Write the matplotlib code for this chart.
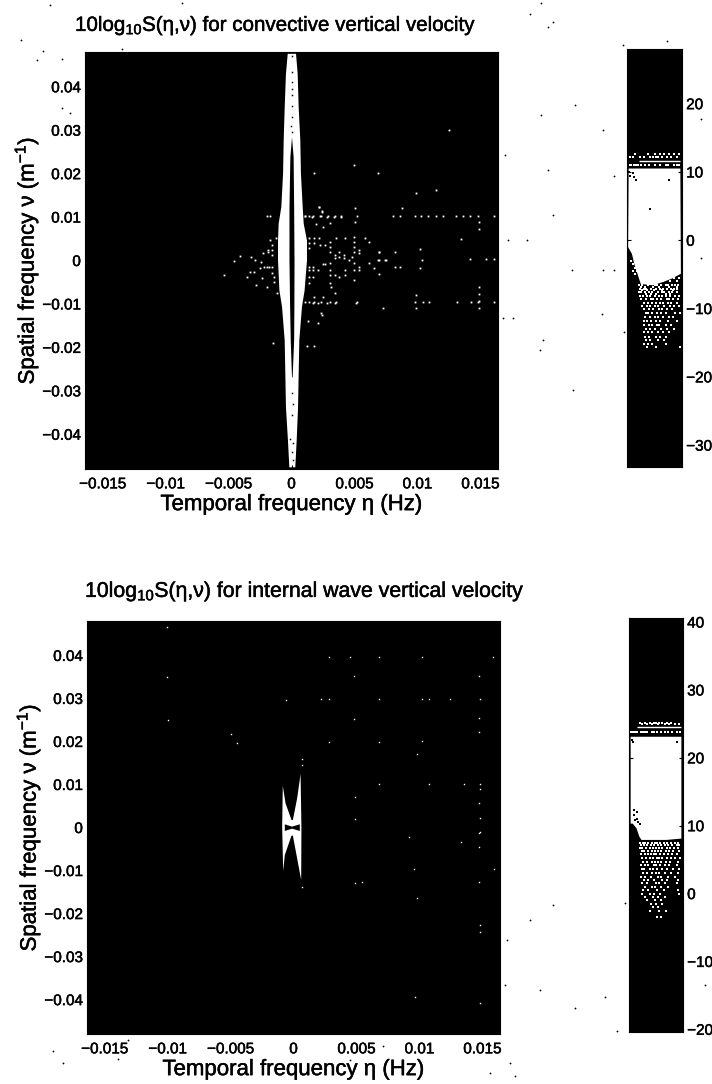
import matplotlib
matplotlib.use("Agg")
import matplotlib.pyplot as plt
import matplotlib.patheffects as pe
from matplotlib.text import Text

plt.rcParams['font.family'] = ['Liberation Sans', 'DejaVu Sans']
plt.rcParams['mathtext.fontset'] = 'custom'
plt.rcParams['mathtext.rm'] = 'Liberation Sans'
plt.rcParams['mathtext.it'] = 'Liberation Sans'
plt.rcParams['mathtext.fallback'] = 'stix'

# frequencies below are in mHz and 1e-3 1/m
x_ticks = [-0.015, -0.01, -0.005, 0, 0.005, 0.01, 0.015]
x_tick_labels = ['\u22120.015', '\u22120.01', '\u22120.005', '0', '0.005', '0.01', '0.015']
y_ticks = [0.04, 0.03, 0.02, 0.01, 0, -0.01, -0.02, -0.03, -0.04]
y_tick_labels = ['0.04', '0.03', '0.02', '0.01', '0', '\u22120.01', '\u22120.02', '\u22120.03', '\u22120.04']

# convective panel, white spindle
conv_y = [47.7, 43.1, 35.4, 27.8, 20.1, 12.4, 8.6, 4.7, 0.1, -6.8, -10.6, -18.3, -26, -33.7, -41.4, -47.5]
conv_left = [-0.34, -0.48, -0.58, -0.66, -0.71, -0.85, -1.06, -1.11, -1.11, -1.0, -0.79, -0.58, -0.53, -0.48, -0.32, -0.21]
conv_right = [0.32, 0.45, 0.53, 0.66, 0.71, 0.85, 0.93, 1.19, 1.19, 1.0, 0.79, 0.58, 0.53, 0.48, 0.37, 0.26]
gap_y = [28.5, 23.9, 12.4, 0.1, -10.6, -18.3, -26.8]
gap_left = [0, -0.13, -0.2, -0.2, -0.15, -0.1, 0]
gap_right = [0, 0.13, 0.17, 0.2, 0.19, 0.17, 0.05]
conv_holes_x = [0.0, 0.03, 0.0, 0.0, 0.0, -0.02, 0.03, 0.0, 0.0, 0.05, 0.1, 0.0, -0.1, 0.1, 0.0, 0.1]
conv_holes_y = [47.0, 41.0, 39.5, 38.0, 33.0, 31.0, 29.6, 35.5, 43.5, -30.5, -33.0, -35.5, -41.0, -42.0, -44.0, -46.0]

# convective panel, scattered white points
conv_dots_x = [
    -5.37, -4.58, -4.10, -3.52, -3.31, -3.25, -2.94, -2.86, -2.78, -2.51, -2.46, -2.27, -2.19, -2.33, -1.93, -1.93,
    -1.85, -1.85, -1.75, -1.53, -1.53, -1.53, -1.53, -1.53, -1.40, -1.40, -1.27, -1.67, -1.19,
    2.17, 2.43, 2.83, 3.36, 3.97, 2.30, 1.11, 1.64, 1.96, 2.49, 3.02,
    1.38, 1.77, 2.17, 1.38, 1.77, 1.38, 2.30, 2.70, 3.02, 3.02, 3.02, 3.55, 4.23, 4.95, 4.95, 4.95, 4.95,
    5.80, 6.19, 5.40, 5.40, 6.93, 3.44, 3.44, 3.76, 3.76, 4.15, 4.15, 4.82,
    2.49, 2.70, 3.02, 3.02, 3.02, 1.38, 1.70, 1.38, 1.70, 1.38, 1.70, 2.11, 3.44, 3.76, 4.23, 4.23, 4.55,
    4.95, 4.95, 4.95, 5.40, 5.40, 6.14, 6.53, 6.93, 7.41, 6.93, 1.38, 3.02, 3.17, 3.44, 1.77, 2.49, 1.70, 2.11,
    2.83, 3.44, 5.13, 2.38,
    6.96, 7.54, 6.88, 8.2, 8.2, 8.65, 10.19, 10.4, 10.19, 13.49, 14.2, 15.48, 16.08, 9.92, 7.28, 9.92,
    2.12, 2.43, 1.32, -1.46, 1.22, 1.8, 2.17, 2.43, 5.03, 1.8, 6.88, 4.97, 8.81, 9.92, 11.5, 12.51,
    -1.93, -1.67, 1.06, 1.38, 1.72, 2.38, 2.91, 3.44, 3.97, 5.24, 8.07, 8.65, 9.79, 10.32, 10.85, 11.5, 12.04,
    13.1, 13.62, 14.15, 14.81, 16.08,
    1.06, 1.38, 1.8, 2.38, 3.04, 3.52, 5.24, 9.79, 10.45, 10.9, 13.17, 14.29, 14.81, 16.08,
    14.9, 14.9, 14.9, 14.9, 14.9, 14.9, 5.03]
conv_dots_y = [
    -3.3, -0.1, 1.04, -3.7, -2.6, 0.73, -2.6, 0.12, -5.6, -1.8, -0.4, 1.65, -1.4, -4.1, -1.4, -6.0,
    2.4, 2.0, -1.4, 3.6, 2.4, 1.3, -1.4, -2.95, -3.7, -4.9, 5.1, 4.7, -7.5,
    12.4, 11.4, 10.1, 10.1, 10.1, 10.3, 10.25, 10.1, 8.3, 7.6, 8.6,
    5.1, 5.1, 5.1, 4.0, 4.0, 2.8, 3.6, 3.6, 4.3, 3.2, 2.0, 5.26, 5.26, 5.5, 4.3, 3.2, 2.0,
    5.1, 4.2, 2.4, 1.65, 2.0, 1.3, 0.5, 2.0, 0.9, 1.3, 0.5, 0.9,
    -0.9, -0.9, -0.65, -2.2, -3.3, -1.4, -1.4, -2.2, -2.2, -3.7, -3.7, -2.2, -3.3, -3.7, -2.2, -3.3, 0.1,
    -0.65, -2.2, -4.5, -1.4, -2.2, -0.65, -1.8, 0.1, 0.1, -3.0, -5.25, -5.25, -6.0, -7.5, -8.3, -8.3, -9.7, -9.7,
    -9.7, -9.7, -9.7, -12.2,
    2.0, 0.1, 0.1, 2.0, -1.4, -1.4, 2.6, 0.1, -1.8, 5.0, 0.35, 0.35, 0.35, -7.95, -11.0, -11.0,
    -14.5, -12.6, -13.9, -18.9, -19.6, -19.6, 12.25, 11.25, 12.0, 20.1, 20.1, 21.9, 12.0, 15.5, 16.2, 30.1,
    10.25, 10.25, 10.25, 10.25, 10.25, 10.25, 10.25, 10.25, 10.25, 10.25, 10.25, 10.25, 10.25, 10.25, 10.25, 10.25, 10.25,
    10.25, 10.25, 10.25, 10.25, 10.25,
    -9.64, -9.64, -9.64, -9.64, -9.64, -9.64, -9.64, -9.64, -9.64, -9.64, -9.64, -9.64, -9.64, -9.64,
    8.95, 7.2, -6.0, -7.7, -9.25, -11.0, 8.95]

# internal wave panel, bow tie
wave_x = [-0.85, -0.63, -0.16, -0.05, 0.29, 0.56, 0.63, 0.61, 0.29, -0.05, -0.16, -0.69, -0.82, -0.90]
wave_y = [9.7, 5.6, 1.75, 1.75, 6.8, 12.4, 0, -12.2, -7.2, -1.9, -1.9, -6.4, -10.1, 0]
bow_x = [-0.69, -0.11, 0.50, 0.50, -0.11, -0.69]
bow_y = [0.74, 0.2, 0.74, -0.8, -0.27, -0.8]

wave_dots_x = [
    -10.03, -10.03, -9.97, -5.0, -4.52, -0.61, 0.69, 0.69, 2.8, 4.52, 6.83, 10.21, 15.85, 4.84, 14.76,
    2.2, 2.8, 6.83, 10.21, 10.74, 12.41, 14.78, 4.84, 14.76, 14.71, 2.85, 6.83, 10.21, 9.81, 6.83, 10.79,
    13.57, 14.78, 14.78, 4.92, 14.71, 4.87, 14.78, 14.78, 9.21,
    13.33, 14.76, 14.76, 9.6, 15.95, 4.92, 5.45, 14.76, 0.69, 9.81, 14.78, 14.78, 9.68, 14.78]
wave_dots_y = [
    46.7, 34.9, 25.0, 21.7, 19.6, 29.7, 15.9, 14.6, 39.6, 39.6, 39.6, 39.7, 39.7, 35.2, 35.2,
    29.8, 29.8, 29.8, 29.96, 29.96, 29.96, 29.96, 25.3, 25.5, 22.3, 19.8, 19.9, 20.0, 17.2, 10.0, 10.2,
    10.1, 10.0, 9.0, 7.0, 5.6, 2.0, 2.1, -1.1, -2.3,
    -3.4, -1.2, -4.5, -9.65, -9.65, -12.98, -12.7, -12.75, -13.9, -16.3, -22.7, -24.2, -39.3, -40.9]

# colorbars: position across the bar (0-1) and value in dB
cb1_ticks = [20, 10, 0, -10, -20, -30]
cb1_labels = ['20', '10', '0', '\u221210', '\u221220', '\u221230']
cb1_white_f = [0.03, 0.97, 0.98, 0.82, 0.66, 0.47, 0.25, 0.19, 0.13, 0.09, 0.02]
cb1_white_v = [10.5, 10.5, -4.9, -5.6, -6.1, -6.6, -6.4, -4.9, -3.4, -2.0, -1.0]
cb1_line_f = [0.22, 0.97]
cb1_line_v = [11.6, 11.6]
cb1_rows = [
    (12.6, [0.15, 0.38, 0.5, 0.6, 0.68, 0.76, 0.85, 0.94]),
    (12.2, [0.05, 0.1, 0.24, 0.3, 0.42, 0.47, 0.53, 0.57, 0.64, 0.72, 0.8, 0.9]),
    (11.0, [0.05, 0.08, 0.13, 0.16, 0.2, 0.25, 0.32, 0.4, 0.5, 0.6, 0.7, 0.75, 0.85, 0.9, 0.95]),
    (-1.5, [0.08]), (-2, [0.1]), (-2.5, [0.12]), (-3, [0.08, 0.15]), (-3.5, [0.1]), (-4, [0.14]),
    (-4.5, [0.1, 0.18, 0.72, 0.88]),
    (-5, [0.14, 0.62, 0.8, 0.93]),
    (-5.5, [0.5, 0.7, 0.85, 0.95]),
    (-6, [0.45, 0.58, 0.66, 0.78, 0.9]),
    (-6.5, [0.22, 0.27, 0.38, 0.5, 0.55, 0.62, 0.7, 0.74, 0.82, 0.87, 0.93]),
    (-6.8, [0.25, 0.33, 0.47, 0.59, 0.77, 0.9]),
    (-7.1, [0.24, 0.3, 0.34, 0.44, 0.52, 0.6, 0.66, 0.72, 0.8, 0.86, 0.91]),
    (-7.3, [0.28, 0.37, 0.49, 0.64, 0.84]),
    (-7.6, [0.22, 0.26, 0.32, 0.4, 0.46, 0.56, 0.63, 0.68, 0.76, 0.82, 0.9]),
    (-7.9, [0.34, 0.44, 0.53, 0.71, 0.79]),
    (-8.1, [0.24, 0.29, 0.36, 0.42, 0.5, 0.58, 0.64, 0.7, 0.78, 0.88, 0.94]),
    (-8.6, [0.26, 0.34, 0.44, 0.48, 0.54, 0.62, 0.72, 0.76, 0.84, 0.92]),
    (-9.2, [0.3, 0.38, 0.46, 0.52, 0.6, 0.66, 0.74, 0.8, 0.9]),
    (-9.7, [0.28, 0.36, 0.42, 0.5, 0.56, 0.68, 0.78, 0.86, 0.94]),
    (-10.1, [0.3, 0.4, 0.48, 0.58, 0.64, 0.72, 0.82]),
    (-10.7, [0.34, 0.38, 0.46, 0.54, 0.62, 0.7, 0.88, 0.96]),
    (-11.2, [0.32, 0.42, 0.5, 0.56, 0.66, 0.76, 0.84]),
    (-11.8, [0.3, 0.36, 0.44, 0.52, 0.6, 0.74, 0.9]),
    (-12.4, [0.3, 0.4, 0.46, 0.54, 0.58, 0.7, 0.8]),
    (-13, [0.34, 0.42, 0.5, 0.62, 0.72, 0.86]),
    (-13.5, [0.3, 0.38, 0.46, 0.56, 0.66, 0.76]),
    (-14.1, [0.32, 0.4, 0.52, 0.6, 0.7]),
    (-14.6, [0.34, 0.42, 0.56, 0.68]),
    (-15.2, [0.3, 0.38, 0.46, 0.7]),
    (-15.7, [0.36, 0.52, 0.96])]
cb1_holes_f = [0.04, 0.1, 0.16, 0.76, 0.41, 0.06, 0.12]
cb1_holes_v = [10.0, 9.9, 8.8, 8.8, 4.6, 9.4, 9.2]

cb2_ticks = [40, 30, 20, 10, 0, -10, -20]
cb2_labels = ['40', '30', '20', '10', '0', '\u221210', '\u221220']
cb2_white_f = [0.03, 0.97, 0.97, 0.69, 0.23, 0.19, 0.14, 0.07, 0.03]
cb2_white_v = [23.1, 23.1, 8.1, 7.9, 7.9, 8.4, 9.6, 10.3, 10.3]
cb2_line_f = [0.15, 0.97]
cb2_line_v = [24.5, 24.5]
cb2_rows = [
    (25.2, [0.2, 0.3, 0.38, 0.46, 0.5, 0.56, 0.62, 0.7, 0.78]),
    (25.0, [0.24, 0.34, 0.42, 0.54, 0.66, 0.74, 0.86, 0.92]),
    (23.8, [0.03, 0.07, 0.12, 0.15, 0.22, 0.26, 0.3, 0.34, 0.42, 0.46, 0.52, 0.6, 0.66, 0.72, 0.8, 0.88, 0.94]),
    (7.5, [0.2, 0.26, 0.3, 0.35, 0.42, 0.48, 0.52, 0.58, 0.65, 0.7, 0.78, 0.85, 0.9]),
    (7.1, [0.22, 0.28, 0.34, 0.4, 0.46, 0.54, 0.6, 0.66, 0.72, 0.8, 0.88, 0.93]),
    (6.7, [0.2, 0.24, 0.32, 0.38, 0.44, 0.5, 0.56, 0.62, 0.7, 0.76, 0.84, 0.9]),
    (6.3, [0.24, 0.28, 0.36, 0.42, 0.48, 0.54, 0.6, 0.68, 0.74, 0.82, 0.92]),
    (5.8, [0.22, 0.3, 0.36, 0.4, 0.46, 0.5, 0.58, 0.64, 0.72, 0.8, 0.88]),
    (5.3, [0.24, 0.32, 0.38, 0.44, 0.52, 0.56, 0.62, 0.7, 0.78, 0.86, 0.94]),
    (4.7, [0.26, 0.34, 0.42, 0.48, 0.54, 0.6, 0.68, 0.76, 0.9]),
    (4.2, [0.22, 0.3, 0.36, 0.46, 0.5, 0.58, 0.66, 0.74, 0.88]),
    (3.6, [0.24, 0.28, 0.38, 0.44, 0.52, 0.62, 0.7, 0.82, 0.92]),
    (3, [0.26, 0.34, 0.42, 0.5, 0.56, 0.66, 0.78, 0.9]),
    (2.5, [0.22, 0.3, 0.4, 0.54, 0.6, 0.72, 0.86]),
    (2, [0.28, 0.36, 0.46, 0.62, 0.7, 0.9]),
    (1.5, [0.24, 0.34, 0.5, 0.56, 0.66, 0.88]),
    (1, [0.3, 0.42, 0.48, 0.6, 0.72]),
    (0.5, [0.26, 0.36, 0.52, 0.64, 0.9]),
    (0, [0.24, 0.38, 0.46, 0.58, 0.92]),
    (-0.5, [0.3, 0.44, 0.54, 0.66]),
    (-1, [0.34, 0.48, 0.6]),
    (-1.5, [0.4, 0.5, 0.62]),
    (-2, [0.44, 0.54]),
    (-2.5, [0.38, 0.56, 0.68]),
    (-3.5, [0.52, 0.6])]
cb2_holes_f = [0.1, 0.14, 0.1, 0.15, 0.12, 0.17, 0.2, 0.05, 0.08, 0.88]
cb2_holes_v = [12.3, 12.0, 11.5, 11.0, 10.8, 10.5, 10.2, 22.6, 22.3, 22.4]

# specks from the scan, in pixels of the page
scan_x = [50, 21, 43, 37, 62, 122, 62, 70, 182, 541, 553, 548, 530, 623, 667, 603, 614, 603, 614, 624, 602, 701, 701,
          541, 548, 553, 527, 575, 572, 573, 543, 540, 505, 503, 513, 508, 507, 530, 553, 540, 575, 505, 490,
          515, 490, 510, 128, 53, 63, 118, 383, 350, 625, 605, 705, 617]
scan_y = [5, 40, 51, 60, 59, 49, 108, 113, 3, 3, 22, 27, 14, 45, 41, 130, 176, 270, 270, 332, 314, 119, 258,
          115, 170, 215, 240, 105, 270, 390, 340, 350, 155, 318, 318, 240, 940, 920, 905, 990, 1008, 985, 1045,
          1076, 1073, 1063, 1040, 1051, 1063, 1059, 1046, 1060, 903, 997, 985, 1031]


def add_axes_px(fig, left, top, right, bottom):
    return fig.add_axes([left / 712, 1 - bottom / 1084, (right - left) / 712, (bottom - top) / 1084])


def setup_spectrum(ax, title, title_x, title_y, title_size, fig):
    ax.set_facecolor('black')
    ax.set_xlim(-0.0164, 0.0164)
    ax.set_ylim(-0.048, 0.048)
    ax.set_xticks(x_ticks)
    ax.set_xticklabels(x_tick_labels, fontsize=11)
    ax.set_yticks(y_ticks)
    ax.set_yticklabels(y_tick_labels, fontsize=11)
    ax.tick_params(axis='x', direction='in', length=3, pad=6)
    ax.tick_params(axis='y', direction='in', length=3, pad=3)
    ax.set_xlabel('Temporal frequency \u03b7 (Hz)', fontsize=16, labelpad=2)
    ax.set_ylabel('Spatial frequency \u03bd (m$^{\u22121}$)', fontsize=16, labelpad=0)
    fig.text(title_x / 712, 1 - title_y / 1084, title, fontsize=title_size, ha='left', va='baseline')


def setup_colorbar(ax, ylim, ticks, labels, white_f, white_v, line_f, line_v, rows, holes_f, holes_v):
    ax.set_facecolor('black')
    ax.set_xlim(0, 1)
    ax.set_ylim(*ylim)
    ax.set_xticks([])
    ax.set_yticks(ticks)
    ax.set_yticklabels(labels, fontsize=11)
    ax.yaxis.tick_right()
    ax.tick_params(direction='in', length=3, left=True, right=True, labelright=True, pad=3)
    ax.fill(white_f, white_v, color='white', lw=0, zorder=1)
    ax.plot(line_f, line_v, color='white', lw=1, solid_capstyle='butt', zorder=1)
    speck_f = []
    speck_v = []
    for v, fs in rows:
        for f in fs:
            speck_f.append(f)
            speck_v.append(v)
    ax.plot(speck_f, speck_v, ls='none', marker='s', ms=1.5, mfc='white', mew=0, zorder=2)
    ax.plot(holes_f, holes_v, ls='none', marker='s', ms=1.6, mfc='black', mew=0, zorder=2)


fig = plt.figure(figsize=(7.12, 10.84), dpi=100)

ax_scan = fig.add_axes([0, 0, 1, 1])
ax_scan.set_xlim(0, 712)
ax_scan.set_ylim(1084, 0)
ax_scan.axis('off')
ax_scan.plot(scan_x, scan_y, ls='none', marker='o', ms=1.3, color='black', mew=0)

# convective
ax1 = add_axes_px(fig, 85, 52, 498, 469)
setup_spectrum(ax1, r'10log$_{\mathrm{10}}$S($\mathrm{\eta}$,$\mathrm{\nu}$) for convective vertical velocity', 75, 31, 14.8, fig)
ax1.fill_betweenx([v * 1e-3 for v in conv_y], [v * 1e-3 for v in conv_left], [v * 1e-3 for v in conv_right],
                  color='white', lw=0, zorder=1)
ax1.fill_betweenx([v * 1e-3 for v in gap_y], [v * 1e-3 for v in gap_left], [v * 1e-3 for v in gap_right],
                  color='black', lw=0, zorder=2)
ax1.plot([v * 1e-3 for v in conv_holes_x], [v * 1e-3 for v in conv_holes_y], ls='none', marker='s', ms=1.1,
         mfc='black', mew=0, zorder=3)
ax1.plot([v * 1e-3 for v in conv_dots_x], [v * 1e-3 for v in conv_dots_y], ls='none', marker='s', ms=1.3,
         mfc='white', mew=0, zorder=3)

# internal waves
ax2 = add_axes_px(fig, 87, 621, 500, 1034)
setup_spectrum(ax2, r'10log$_{\mathrm{10}}$S($\mathrm{\eta}$,$\mathrm{\nu}$) for internal wave vertical velocity', 85, 597, 15.3, fig)
ax2.fill([v * 1e-3 for v in wave_x], [v * 1e-3 for v in wave_y], color='white', lw=0, zorder=1)
ax2.fill([v * 1e-3 for v in bow_x], [v * 1e-3 for v in bow_y], color='black', lw=0, zorder=2)
ax2.plot([v * 1e-3 for v in wave_dots_x], [v * 1e-3 for v in wave_dots_y], ls='none', marker='s', ms=1.0,
         mfc='white', mew=0, zorder=3)

cb1 = add_axes_px(fig, 627, 49, 682, 467)
setup_colorbar(cb1, (-33.2, 28.0), cb1_ticks, cb1_labels, cb1_white_f, cb1_white_v, cb1_line_f, cb1_line_v,
               cb1_rows, cb1_holes_f, cb1_holes_v)

cb2 = add_axes_px(fig, 629, 618, 683, 1032)
setup_colorbar(cb2, (-20.4, 40.6), cb2_ticks, cb2_labels, cb2_white_f, cb2_white_v, cb2_line_f, cb2_line_v,
               cb2_rows, cb2_holes_f, cb2_holes_v)

# the scan thickens the type a little
for t in fig.findobj(Text):
    t.set_path_effects([pe.withStroke(linewidth=0.35, foreground='black')])

fig.savefig('out.png', dpi=100)
